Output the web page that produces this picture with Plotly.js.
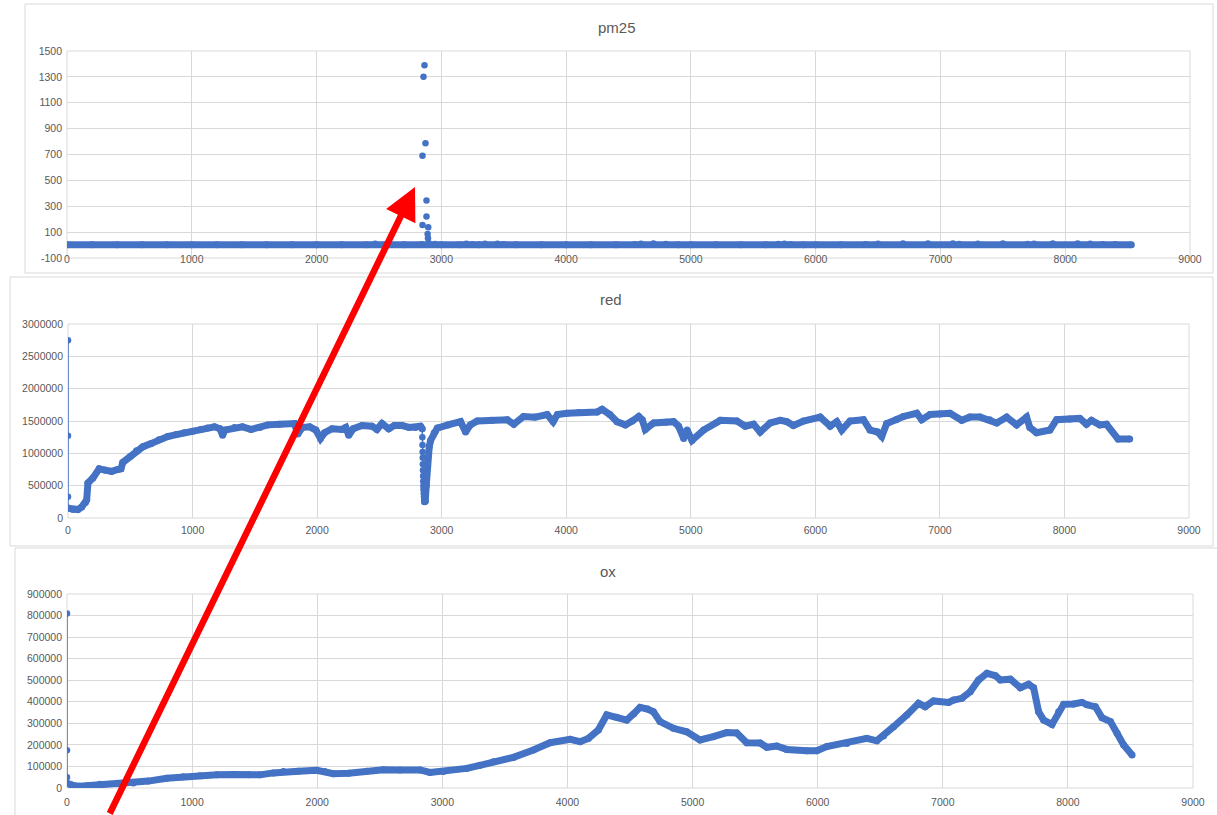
<!DOCTYPE html>
<html><head><meta charset="utf-8">
<script src="https://cdn.plot.ly/plotly-3.0.1.min.js"></script>
<style>html,body{margin:0;padding:0;background:#fff}#chart{width:1217px;height:815px}</style>
</head><body><div id="chart"></div>
<script>
// ---------- data ----------
const xTickVals = [0,1000,2000,3000,4000,5000,6000,7000,8000,9000];
const xTickText = ['0','1000','2000','3000','4000','5000','6000','7000','8000','9000'];

const pmTickVals = [-100,100,300,500,700,900,1100,1300,1500];
const pmTickText = ['-100','100','300','500','700','900','1100','1300','1500'];
const redTickVals = [0,500000,1000000,1500000,2000000,2500000,3000000];
const redTickText = ['0','500000','1000000','1500000','2000000','2500000','3000000'];
const oxTickVals = [0,100000,200000,300000,400000,500000,600000,700000,800000,900000];
const oxTickText = ['0','100000','200000','300000','400000','500000','600000','700000','800000','900000'];

// pm25
const pmX = [0,200,400,600,800,1000,1200,1400,1600,1800,2000,2200,2400,2470,2550,2700,2840,2900,2950,3000,3150,3200,3250,3300,3350,3450,3500,3600,3800,4000,4200,4400,4550,4600,4700,4800,4900,5000,5200,5400,5600,5700,5750,5800,5900,6000,6200,6400,6500,6700,6900,7100,7150,7300,7500,7700,7750,7900,8100,8200,8300,8400,8530];
const pmY = [2,2,2,2,2,2,2,2,2,2,2,2,3,8,3,3,4,12,6,3,3,8,4,3,8,8,4,3,3,3,3,3,4,8,10,6,3,3,3,3,3,6,8,4,3,3,3,4,8,10,10,10,6,9,10,6,9,10,10,8,5,4,3];
const pmSpikeX = [2865,2857,2873,2849,2881,2881,2849,2895,2890,2893];
const pmSpikeY = [1390,1300,786,691,344,220,156,138,86,53];

// red
const redStartX = [0,0,0,0];
const redStartY = [2750000,1270000,330000,160000];
const redX1 = [0,40,80,110,140,150,160,200,250,300,350,400,425,440,500,550,600,666,730,800,870,933,1000,1067,1120,1176,1220,1241,1260,1336,1400,1470,1540,1604,1700,1818,1845,1880,1940,1990,2027,2060,2120,2200,2230,2254,2290,2361,2440,2480,2521,2575,2620,2682,2740,2789,2830,2844];
const redY1 = [150000,130000,130000,170000,240000,280000,540000,620000,760000,740000,720000,750000,760000,860000,950000,1040000,1100000,1150000,1210000,1260000,1290000,1320000,1340000,1370000,1390000,1410000,1380000,1280000,1360000,1400000,1410000,1370000,1400000,1440000,1450000,1460000,1300000,1400000,1410000,1360000,1230000,1320000,1380000,1370000,1400000,1280000,1380000,1430000,1420000,1370000,1460000,1380000,1430000,1430000,1400000,1400000,1420000,1380000];
const redDipX = [2844,2845,2846,2847,2848,2849,2850,2851,2852,2853,2854,2856,2858,2860,2862];
const redDipY = [1380000,1250000,1130000,1020000,930000,830000,740000,650000,570000,500000,440000,380000,330000,290000,250000];
const redX2 = [2862,2868,2876,2884,2900,2911,2940,2965,3050,3152,3192,3230,3286,3400,3526,3579,3657,3750,3847,3895,3930,4007,4100,4248,4288,4350,4408,4475,4530,4582,4610,4635,4702,4800,4862,4902,4943,4970,5010,5103,5237,5370,5437,5504,5557,5638,5718,5771,5824,5905,6039,6119,6172,6212,6279,6386,6439,6500,6533,6573,6650,6707,6814,6854,6921,7001,7081,7175,7241,7322,7400,7456,7536,7616,7696,7722,7776,7883,7937,8043,8123,8177,8217,8284,8337,8431,8524];
const redY2 = [250000,260000,500000,850000,1100000,1200000,1320000,1390000,1440000,1490000,1330000,1440000,1500000,1510000,1520000,1450000,1570000,1560000,1600000,1490000,1600000,1620000,1630000,1640000,1680000,1600000,1490000,1440000,1500000,1570000,1520000,1370000,1470000,1480000,1490000,1420000,1230000,1360000,1200000,1360000,1510000,1500000,1420000,1450000,1330000,1470000,1510000,1490000,1430000,1500000,1560000,1420000,1490000,1360000,1500000,1520000,1360000,1330000,1260000,1460000,1520000,1570000,1620000,1520000,1600000,1610000,1620000,1510000,1560000,1560000,1520000,1470000,1560000,1440000,1560000,1400000,1320000,1360000,1520000,1530000,1540000,1450000,1510000,1440000,1450000,1220000,1220000];

// ox
const oxStartX = [0,0,0,0];
const oxStartY = [810000,175000,50000,22000];
const oxX = [0,30,60,104,160,264,400,530,650,797,930,1063,1200,1329,1450,1543,1650,1729,1850,1996,2060,2129,2250,2396,2529,2662,2822,2902,3008,3195,3300,3408,3568,3728,3861,4021,4101,4167,4247,4314,4394,4474,4530,4580,4640,4687,4740,4847,4953,5060,5166,5273,5353,5433,5540,5593,5673,5753,5913,5993,6073,6233,6393,6473,6526,6606,6713,6806,6859,6926,7046,7086,7153,7220,7286,7353,7420,7460,7540,7620,7686,7726,7766,7806,7873,7926,7966,8046,8113,8153,8220,8273,8340,8393,8446,8513];
const oxY = [22000,15000,10000,8000,10000,17000,20000,23000,32000,45000,52000,57000,61000,63000,62000,61000,70000,76000,78000,82000,76000,66000,68000,78000,85000,84000,84000,72000,76000,91000,105000,122000,142000,176000,210000,226000,215000,230000,269000,339000,328000,315000,345000,374000,366000,354000,308000,277000,261000,223000,238000,257000,255000,210000,209000,189000,195000,179000,173000,173000,192000,207000,230000,219000,241000,284000,339000,393000,377000,404000,397000,408000,416000,447000,501000,532000,521000,501000,505000,465000,481000,465000,354000,315000,295000,354000,388000,390000,397000,386000,377000,326000,308000,254000,199000,153000];

// ---------- drawing ----------
const W = 1217, H = 815;
const BLUE = '#4472C4', GRID = '#d9d9d9', TXT = '#595959';
const px = v => v / W;
const py = v => 1 - v / H;
const FONT = 'Liberation Sans, Arial, sans-serif';

function body(x, y, xa, ya) {
  return {x, y, xaxis: xa, yaxis: ya, type: 'scatter', mode: 'lines+markers',
    line: {color: BLUE, width: 7}, marker: {color: BLUE, size: 7}, hoverinfo: 'skip', showlegend: false};
}
function dots(x, y, xa, ya, withLine) {
  return {x, y, xaxis: xa, yaxis: ya, type: 'scatter', mode: withLine ? 'lines+markers' : 'markers',
    line: {color: BLUE, width: 1.5}, marker: {color: BLUE, size: 6.5}, hoverinfo: 'skip', showlegend: false};
}

const traces = [
  body(pmX, pmY, 'x', 'y'),
  dots(pmSpikeX, pmSpikeY, 'x', 'y', false),
  dots(redStartX, redStartY, 'x2', 'y2', true),
  body(redX1, redY1, 'x2', 'y2'),
  dots(redDipX, redDipY, 'x2', 'y2', true),
  body(redX2, redY2, 'x2', 'y2'),
  dots(oxStartX, oxStartY, 'x3', 'y3', true),
  body(oxX, oxY, 'x3', 'y3')
];

function xax(domain, anchor, extra) {
  return Object.assign({domain, anchor, range: [0, 9000], tickmode: 'array', tickvals: xTickVals, ticktext: xTickText,
    showgrid: true, gridcolor: GRID, gridwidth: 1, zeroline: false, showline: false, ticks: '',
    tickfont: {family: FONT, size: 10.5, color: TXT}, fixedrange: true}, extra || {});
}
function yax(domain, anchor, range, vals, text) {
  return {domain, anchor, range, tickmode: 'array', tickvals: vals, ticktext: text,
    showgrid: true, gridcolor: GRID, gridwidth: 1, zeroline: false, showline: false, ticks: '',
    ticklabelstandoff: 4, tickfont: {family: FONT, size: 10.5, color: TXT}, fixedrange: true};
}

const pmYDom = [py(258), py(51)];
const pmZeroPos = pmYDom[0] + (pmYDom[1] - pmYDom[0]) * (100 / 1600);

function title(text, x, y) {
  return {text, xref: 'paper', yref: 'paper', x: px(x), y: py(y), xanchor: 'center', yanchor: 'middle',
    showarrow: false, font: {family: FONT, size: 15, color: TXT}};
}

const layout = {
  width: W, height: H, margin: {l: 0, r: 0, t: 0, b: 0},
  paper_bgcolor: '#ffffff', plot_bgcolor: 'rgba(0,0,0,0)', showlegend: false,
  xaxis: xax([px(67), px(1190)], 'free', {position: pmZeroPos, ticklabelstandoff: 6}),
  yaxis: yax(pmYDom, 'x', [-100, 1500], pmTickVals, pmTickText),
  xaxis2: xax([px(68), px(1189)], 'y2', {ticklabelstandoff: 4}),
  yaxis2: yax([py(518), py(324)], 'x2', [0, 3000000], redTickVals, redTickText),
  xaxis3: xax([px(67), px(1193)], 'y3', {ticklabelstandoff: 6}),
  yaxis3: yax([py(788), py(594)], 'x3', [0, 900000], oxTickVals, oxTickText),
  shapes: [
    {type: 'rect', xref: 'paper', yref: 'paper', x0: px(25), x1: px(1213), y0: py(273), y1: py(4), line: {color: GRID, width: 1}, layer: 'below'},
    {type: 'rect', xref: 'paper', yref: 'paper', x0: px(10), x1: px(1213), y0: py(546), y1: py(277), line: {color: GRID, width: 1}, layer: 'below'},
    {type: 'rect', xref: 'paper', yref: 'paper', x0: px(15), x1: px(1230), y0: py(830), y1: py(548), line: {color: GRID, width: 1}, layer: 'below'},
    {type: 'rect', xref: 'x domain', yref: 'y domain', x0: 0, x1: 1, y0: 0, y1: 1, line: {color: GRID, width: 1}, layer: 'below'},
    {type: 'rect', xref: 'x2 domain', yref: 'y2 domain', x0: 0, x1: 1, y0: 0, y1: 1, line: {color: GRID, width: 1}, layer: 'below'},
    {type: 'rect', xref: 'x3 domain', yref: 'y3 domain', x0: 0, x1: 1, y0: 0, y1: 1, line: {color: GRID, width: 1}, layer: 'below'}
  ],
  annotations: [
    title('pm25', 617, 27),
    title('red', 611, 299),
    title('ox', 608, 571),
    {text: '', xref: 'paper', yref: 'paper', x: px(415), y: py(187), ax: -306, ay: 643,
      showarrow: true, arrowhead: 2, arrowsize: 1.0, arrowwidth: 6.5, arrowcolor: '#ff0000', standoff: 0}
  ]
};

Plotly.newPlot('chart', traces, layout, {staticPlot: true, displayModeBar: false});
</script>
</body></html>
